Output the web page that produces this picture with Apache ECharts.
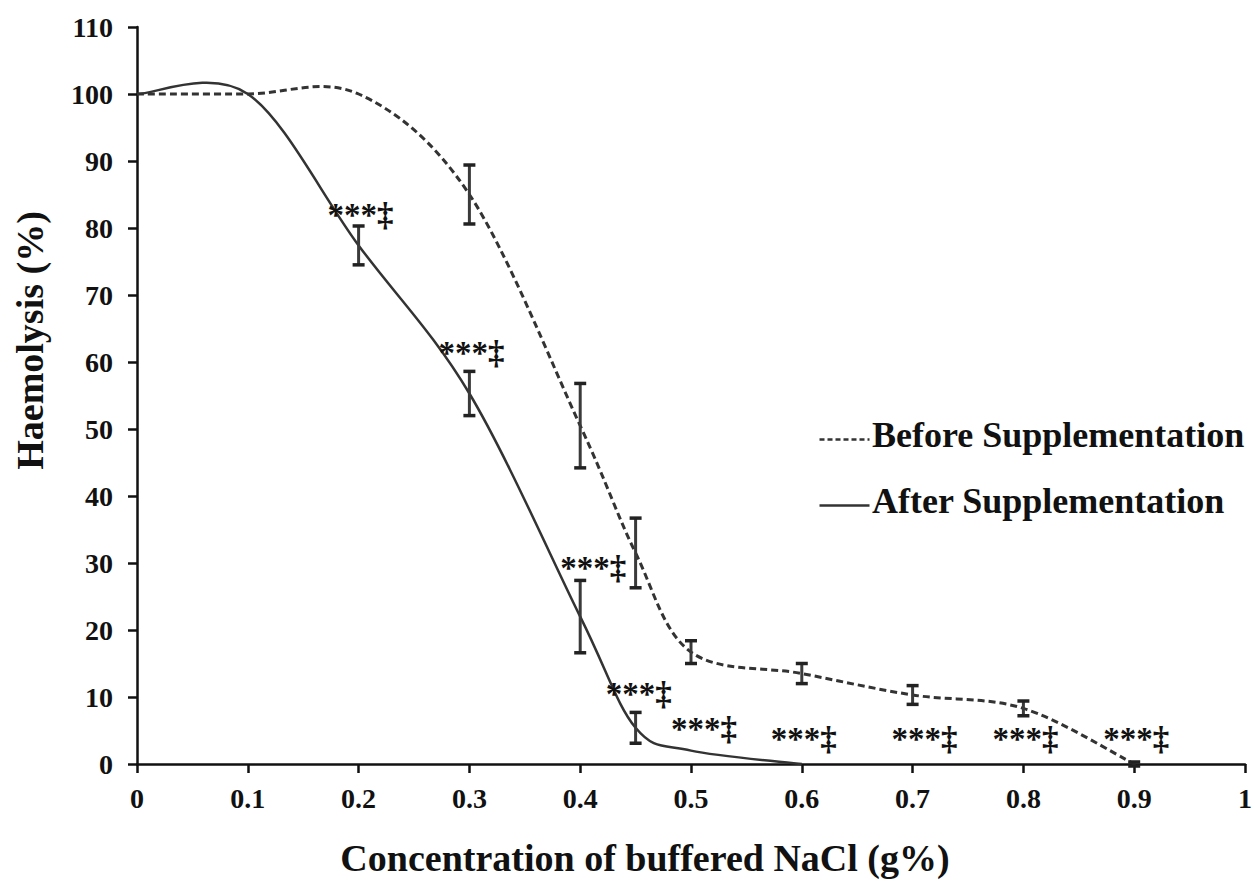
<!DOCTYPE html>
<html>
<head>
<meta charset="utf-8">
<script src="https://cdn.jsdelivr.net/npm/echarts@6/dist/echarts.min.js"></script>
<style>
  html, body { margin: 0; padding: 0; background: #ffffff; }
  #chart { width: 1255px; height: 882px; }
</style>
</head>
<body>
<div id="chart"></div>
<script>
// ---- Data ----
const seriesNames = ['Before Supplementation', 'After Supplementation'];

const xBefore   = [0, 0.1, 0.2, 0.3, 0.4, 0.45, 0.5, 0.6, 0.7, 0.8, 0.9];
const yBefore   = [100, 100, 100, 85, 50.5, 31.5, 16.7, 13.5, 10.3, 8.3, 0];
const errBefore = [0, 0, 0, 4.4, 6.3, 5.2, 1.7, 1.5, 1.4, 1.1, 0.3];

const xAfter    = [0, 0.1, 0.2, 0.3, 0.4, 0.45, 0.5, 0.6];
const yAfter    = [100, 100, 77.4, 55.3, 22, 5.4, 2, 0];
const errAfter  = [0, 0, 2.9, 3.3, 5.4, 2.3, 0, 0];

// significance annotations: anchor x, y (data units) and text
const annX    = [0.172, 0.272, 0.382, 0.423, 0.482, 0.572, 0.681, 0.772, 0.872];
const annY    = [82.0, 61.4, 29.3, 10.5, 5.2, 3.7, 3.7, 3.7, 3.7];
const annText = ['***‡', '***‡', '***‡', '***‡', '***‡', '***‡', '***‡', '***‡', '***‡'];

const xTickValues = [0, 0.1, 0.2, 0.3, 0.4, 0.5, 0.6, 0.7, 0.8, 0.9, 1];
const xTickLabels = ['0', '0.1', '0.2', '0.3', '0.4', '0.5', '0.6', '0.7', '0.8', '0.9', '1'];
const yTickValues = [0, 10, 20, 30, 40, 50, 60, 70, 80, 90, 100, 110];
const yTickLabels = ['0', '10', '20', '30', '40', '50', '60', '70', '80', '90', '100', '110'];

const xTitle = 'Concentration of buffered NaCl (g%)';
const yTitle = 'Haemolysis (%)';

// ---- Build ----
const FONT = '"Liberation Serif", "Times New Roman", serif';
const zip = (xs, ys) => xs.map((x, i) => [x, ys[i]]);
const errRows = (xs, ys, es) => xs.map((x, i) => [x, ys[i], es[i]]).filter(r => r[2] > 0);

function labelFor(values, labels) {
  return v => {
    const i = values.findIndex(t => Math.abs(t - v) < 1e-6);
    return i >= 0 ? labels[i] : '';
  };
}

// Spreadsheet-style smoothed line (Catmull-Rom Bezier) through the data, in pixel space
function smoothLineRender(xs, ys, lineStyle) {
  return (params, api) => {
    if (params.dataIndex !== 0) return null;
    const pts = xs.map((x, i) => api.coord([x, ys[i]]));
    const n = pts.length;
    let d = 'M' + pts[0][0] + ' ' + pts[0][1];
    for (let i = 0; i < n - 1; i++) {
      const p0 = pts[Math.max(i - 1, 0)], p1 = pts[i], p2 = pts[i + 1], p3 = pts[Math.min(i + 2, n - 1)];
      const c1x = p1[0] + (p2[0] - p0[0]) / 6, c1y = p1[1] + (p2[1] - p0[1]) / 6;
      const c2x = p2[0] - (p3[0] - p1[0]) / 6, c2y = p2[1] - (p3[1] - p1[1]) / 6;
      d += ' C' + c1x + ' ' + c1y + ' ' + c2x + ' ' + c2y + ' ' + p2[0] + ' ' + p2[1];
    }
    return {
      type: 'path',
      shape: { pathData: d },
      style: Object.assign({ fill: 'none' }, lineStyle)
    };
  };
}

const errorBarRender = (params, api) => {
  const x = api.value(0), y = api.value(1), e = api.value(2);
  const top = api.coord([x, y + e]);
  const bot = api.coord([x, y - e]);
  const hw = 6;
  const style = { stroke: '#3a3a3a', lineWidth: 3 };
  return {
    type: 'group',
    children: [
      { type: 'line', shape: { x1: top[0], y1: top[1], x2: bot[0], y2: bot[1] }, style: style },
      { type: 'line', shape: { x1: top[0] - hw, y1: top[1], x2: top[0] + hw, y2: top[1] }, style: { stroke: '#222', lineWidth: 3.5 } },
      { type: 'line', shape: { x1: bot[0] - hw, y1: bot[1], x2: bot[0] + hw, y2: bot[1] }, style: { stroke: '#222', lineWidth: 3.5 } }
    ]
  };
};

const annRender = (params, api) => {
  const p = api.coord([api.value(0), api.value(1)]);
  return {
    type: 'text',
    x: p[0], y: p[1],
    style: {
      text: annText[params.dataIndex],
      font: 'bold 33px ' + FONT,
      fill: '#111',
      align: 'left',
      verticalAlign: 'middle'
    }
  };
};

const beforeStyle = { stroke: '#333', lineWidth: 3, lineDash: [7, 4] };
const afterStyle  = { stroke: '#333', lineWidth: 2.5 };

const chart = echarts.init(document.getElementById('chart'), null, { renderer: 'svg' });

chart.setOption({
  backgroundColor: '#ffffff',
  animation: false,
  grid: { left: 137, right: 7, top: 27, bottom: 111, containLabel: false },
  graphic: [
    { type: 'line', left: 817, top: 437, shape: { x1: 0, y1: 0, x2: 50, y2: 0 },
      style: { stroke: '#333', lineWidth: 2.5, lineDash: [5, 3] } },
    { type: 'text', left: 872, top: 417,
      style: { text: seriesNames[0], font: 'bold 36px ' + FONT, fill: '#111' } },
    { type: 'line', left: 817, top: 503, shape: { x1: 0, y1: 0, x2: 50, y2: 0 },
      style: { stroke: '#333', lineWidth: 2.5 } },
    { type: 'text', left: 872, top: 483,
      style: { text: seriesNames[1], font: 'bold 36px ' + FONT, fill: '#111' } }
  ],
  xAxis: {
    type: 'value', min: 0, max: 1, interval: 0.1,
    name: xTitle, nameLocation: 'middle', nameGap: 75,
    nameTextStyle: { fontFamily: FONT, fontWeight: 'bold', fontSize: 38, color: '#111', padding: [0, 92, 0, 0] },
    axisLine: { lineStyle: { color: '#111', width: 2.5 } },
    axisTick: { show: true, inside: false, length: 9, lineStyle: { color: '#111', width: 2.5 } },
    axisLabel: { margin: 20, fontFamily: FONT, fontWeight: 'bold', fontSize: 28, color: '#111',
                 formatter: labelFor(xTickValues, xTickLabels) },
    splitLine: { show: false }
  },
  yAxis: {
    type: 'value', min: 0, max: 110, interval: 10,
    name: yTitle, nameLocation: 'middle', nameGap: 88, nameRotate: 90,
    nameTextStyle: { fontFamily: FONT, fontWeight: 'bold', fontSize: 38, color: '#111', padding: [0, 0, 0, 110] },
    axisLine: { show: true, lineStyle: { color: '#111', width: 2.5 } },
    axisTick: { show: true, inside: false, length: 9, lineStyle: { color: '#111', width: 2.5 } },
    axisLabel: { margin: 24, fontFamily: FONT, fontWeight: 'bold', fontSize: 28, color: '#111',
                 formatter: labelFor(yTickValues, yTickLabels) },
    splitLine: { show: false }
  },
  series: [
    {
      name: seriesNames[0], type: 'custom', data: zip(xBefore, yBefore),
      renderItem: smoothLineRender(xBefore, yBefore, beforeStyle), z: 3, silent: true, clip: false
    },
    {
      name: seriesNames[1], type: 'custom', data: zip(xAfter, yAfter),
      renderItem: smoothLineRender(xAfter, yAfter, afterStyle), z: 3, silent: true, clip: false
    },
    {
      type: 'custom', data: errRows(xBefore, yBefore, errBefore),
      renderItem: errorBarRender, z: 4, silent: true, clip: false
    },
    {
      type: 'custom', data: errRows(xAfter, yAfter, errAfter),
      renderItem: errorBarRender, z: 4, silent: true, clip: false
    },
    {
      type: 'custom', data: zip(annX, annY),
      renderItem: annRender, z: 5, silent: true, clip: false
    }
  ]
});
</script>
</body>
</html>
